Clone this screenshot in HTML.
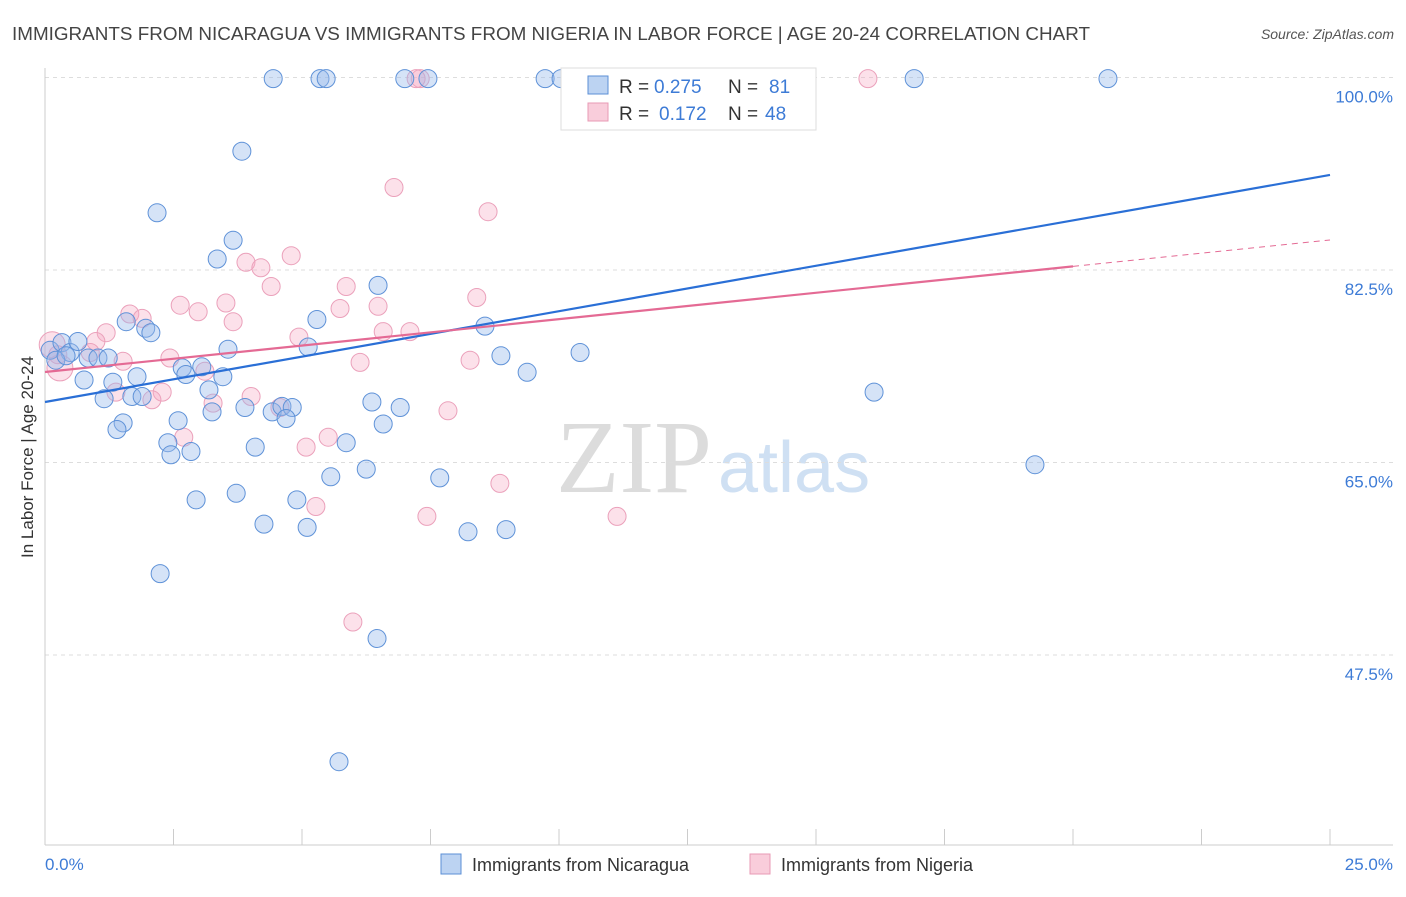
<!DOCTYPE html>
<html><head><meta charset="utf-8"><style>
body{margin:0;background:#fff;font-family:"Liberation Sans",sans-serif;}
</style></head><body>
<svg id="chart" width="1406" height="892" font-family="Liberation Sans, sans-serif">
<text x="12" y="40" font-size="18" fill="#444" textLength="1078" lengthAdjust="spacingAndGlyphs">IMMIGRANTS FROM NICARAGUA VS IMMIGRANTS FROM NIGERIA IN LABOR FORCE | AGE 20-24 CORRELATION CHART</text>
<text x="1394" y="39" font-size="14" fill="#555" text-anchor="end" font-style="italic">Source: ZipAtlas.com</text>
<text x="712" y="492" font-size="104" fill="#dcdcdc" text-anchor="end" style="font-family:'Liberation Serif',serif">ZIP</text>
<text x="718" y="492" font-size="72" fill="#cfe0f3">atlas</text>
<g id="grid"></g><g id="pts"></g><g id="lines"></g>
<text transform="translate(33,457) rotate(-90)" font-size="17" fill="#333" text-anchor="middle">In Labor Force | Age 20-24</text>
<text x="45" y="870" font-size="17" fill="#3d7bd6">0.0%</text>
<text x="1393" y="870" font-size="17" fill="#3d7bd6" text-anchor="end">25.0%</text>
<g>
<rect x="561" y="68" width="255" height="62" fill="#fff" stroke="#ddd"/>
<rect x="588" y="76" width="20" height="18" fill="#bcd3f2" stroke="#5b8fd6"/>
<rect x="588" y="103" width="20" height="18" fill="#f9cddb" stroke="#e89ab5"/>
<text x="619" y="93" font-size="19" fill="#333">R =</text>
<text x="654" y="93" font-size="19" fill="#3d7bd6">0.275</text>
<text x="728" y="93" font-size="19" fill="#333">N =</text>
<text x="769" y="93" font-size="19" fill="#3d7bd6">81</text>
<text x="619" y="120" font-size="19" fill="#333">R =</text>
<text x="659" y="120" font-size="19" fill="#3d7bd6">0.172</text>
<text x="728" y="120" font-size="19" fill="#333">N =</text>
<text x="765" y="120" font-size="19" fill="#3d7bd6">48</text>
</g>
<g>
<rect x="441" y="854" width="20" height="20" fill="#bcd3f2" stroke="#5b8fd6"/>
<text x="472" y="871" font-size="18" fill="#333">Immigrants from Nicaragua</text>
<rect x="750" y="854" width="20" height="20" fill="#f9cddb" stroke="#e89ab5"/>
<text x="781" y="871" font-size="18" fill="#333">Immigrants from Nigeria</text>
</g>
</svg>
<script>
const yTicks=[100,82.5,65,47.5];
const blueX=[4.44,5.35,5.47,7.00,7.45,9.73,10.04,16.91,20.68,3.83,2.18,3.66,3.35,6.48,1.58,1.96,2.06,5.29,8.56,0.10,0.33,0.49,0.64,0.84,1.03,1.23,0.21,0.41,3.56,5.12,8.87,10.41,9.38,16.13,0.76,1.32,1.79,2.67,2.74,3.05,3.46,3.19,1.15,1.69,1.89,3.89,4.42,4.61,4.81,4.69,6.36,6.91,3.25,2.59,1.52,1.40,6.58,5.86,2.39,2.45,2.84,4.09,5.56,6.25,7.68,19.26,2.94,3.72,4.90,4.26,5.10,8.23,8.97,2.24,6.46,5.72];
const blueY=[99.9,99.9,99.9,99.9,99.9,99.9,99.9,99.9,99.9,93.3,87.7,85.2,83.5,81.1,77.8,77.2,76.8,78.0,77.4,75.2,75.9,75.0,76.0,74.5,74.5,74.5,74.3,74.7,75.3,75.5,74.7,75.0,73.2,71.4,72.5,72.3,72.8,73.6,73.0,73.7,72.8,71.6,70.8,71.0,71.0,70.0,69.6,70.1,70.0,69.0,70.5,70.0,69.6,68.8,68.6,68.0,68.5,66.8,66.8,65.7,66.0,66.4,63.7,64.4,63.6,64.8,61.6,62.2,61.6,59.4,59.1,58.7,58.9,54.9,49.0,37.8];
const pinkX=[7.30,7.22,16.01,6.79,8.62,4.79,3.91,4.20,4.40,5.86,8.40,2.63,3.52,2.98,3.66,1.65,1.89,6.48,5.74,1.19,0.99,4.94,6.58,7.10,0.14,0.29,0.25,0.88,1.52,2.43,3.11,6.13,8.27,1.38,2.28,2.08,3.27,4.01,4.57,7.84,2.70,5.08,5.51,5.27,8.85,7.43,11.13,5.99];
const pinkY=[99.9,99.9,99.9,90.0,87.8,83.8,83.2,82.7,81.0,81.0,80.0,79.3,79.5,78.7,77.8,78.5,78.1,79.2,79.0,76.8,76.0,76.4,76.9,76.9,75.7,73.6,74.8,75.0,74.2,74.5,73.3,74.1,74.3,71.4,71.4,70.7,70.4,71.0,70.0,69.7,67.3,66.4,67.3,61.0,63.1,60.1,60.1,50.5];
const blueTrend=[70.5,91.14];
const pinkTrend=[73.23,85.23];
const NS='http://www.w3.org/2000/svg';
const xs=v=>45+v/25*1285;
const ys=v=>77.5+(100-v)*11;
function mk(t,a,p){const e=document.createElementNS(NS,t);for(const k in a)e.setAttribute(k,a[k]);p.appendChild(e);return e;}
const grid=document.getElementById('grid');
yTicks.forEach(t=>{
 const l=mk('line',{x1:45,x2:1393,y1:ys(t),y2:ys(t),stroke:'#ddd','stroke-dasharray':'4,4'},grid);
 
 
 const tx=mk('text',{x:1393,y:ys(t)+25,'font-size':17,fill:'#3d7bd6','text-anchor':'end'},grid);
 tx.textContent=t.toFixed(1)+'%';
 
 
});
const ax=mk('line',{x1:45,x2:45,y1:68,y2:845,stroke:'#ccc'},grid);


const bx=mk('line',{x1:45,x2:1393,y1:845,y2:845,stroke:'#ccc'},grid);


for(let i=0;i<=10;i++){const t=mk('line',{x1:xs(i*2.5),x2:xs(i*2.5),y1:829,y2:845,stroke:'#ccc'},grid);
 
 }
const pts=document.getElementById('pts');
pinkX.forEach((x,i)=>{const c=mk('circle',{cx:xs(x),cy:ys(pinkY[i]),r:(i==24||i==25)?13:9,fill:'rgba(246,170,196,0.35)',stroke:'#eba1bb','stroke-width':1},pts);
 
 });
blueX.forEach((x,i)=>{const c=mk('circle',{cx:xs(x),cy:ys(blueY[i]),r:9,fill:'rgba(150,186,236,0.4)',stroke:'#5f92d8','stroke-width':1},pts);
 
 });
const lines=document.getElementById('lines');
const bl=mk('line',{x1:xs(0),y1:ys(blueTrend[0]),x2:xs(25),y2:ys(blueTrend[1]),stroke:'#2a6fd6','stroke-width':2.2},lines);


const pm=pinkTrend[0]+(pinkTrend[1]-pinkTrend[0])*0.8;
const pl=mk('line',{x1:xs(0),y1:ys(pinkTrend[0]),x2:xs(20),y2:ys(pm),stroke:'#e46a94','stroke-width':2.2},lines);


const pd=mk('line',{x1:xs(20),y1:ys(pm),x2:xs(25),y2:ys(pinkTrend[1]),stroke:'#e46a94','stroke-width':1,'stroke-dasharray':'6,5'},lines);


</script>
</body></html>
